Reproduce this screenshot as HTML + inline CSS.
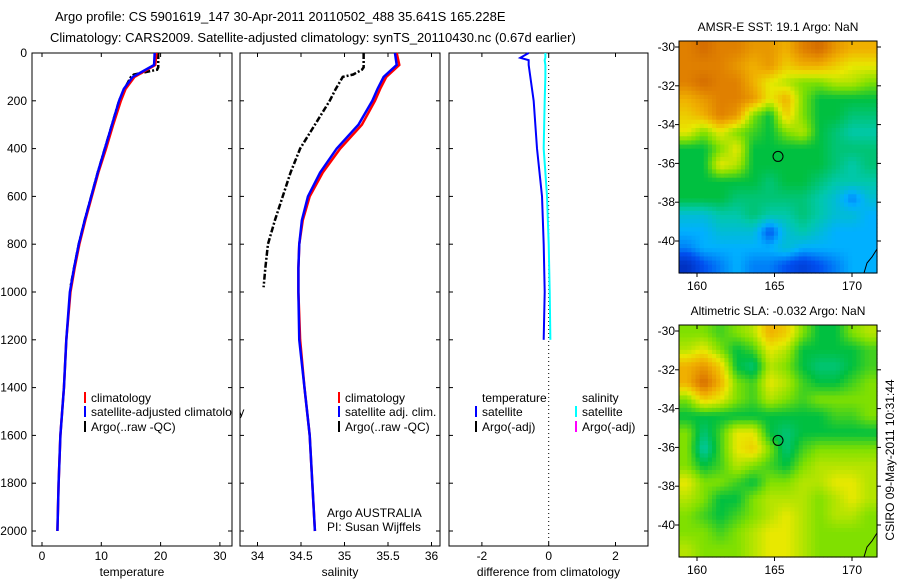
<!DOCTYPE html>
<html><head><meta charset="utf-8"><style>
html,body{margin:0;padding:0;background:#fff}
svg{display:block;font-family:"Liberation Sans",sans-serif}
text{font-size:12px;fill:#000}
</style></head><body>
<svg id="s" width="900" height="580" viewBox="0 0 900 580" xmlns="http://www.w3.org/2000/svg">
<text x="55" y="21" style="font-size:13px">Argo profile: CS 5901619_147 30-Apr-2011 20110502_488 35.641S 165.228E</text>
<text x="50" y="42" style="font-size:13px">Climatology: CARS2009. Satellite-adjusted climatology: synTS_20110430.nc (0.67d earlier)</text>
<g id="g"></g>
</svg>
<script>
// ---- data ----
const depthsClim=[0,50,100,150,200,300,400,500,600,700,800,900,1000,1200,1400,1600,1800,2000];
const tempSat=[19.0,18.9,15.3,13.8,13.0,11.8,10.6,9.4,8.3,7.2,6.2,5.4,4.7,4.1,3.7,3.1,2.8,2.6];
const tempClim=[19.3,19.1,15.6,14.1,13.3,12.0,10.8,9.5,8.4,7.3,6.3,5.5,4.8,4.1,3.7,3.1,2.8,2.6];
const salSat=[35.58,35.6,35.45,35.38,35.32,35.16,34.91,34.72,34.58,34.51,34.48,34.47,34.47,34.48,34.54,34.6,34.63,34.66];
const salClim=[35.6,35.63,35.48,35.41,35.35,35.2,34.95,34.75,34.6,34.52,34.48,34.47,34.47,34.49,34.54,34.6,34.63,34.66];
const depthsArgo=[0,60,70,90,100,150,200,300,400,500,600,700,800,900,980];
const tempArgo=[19.6,19.6,19.4,15.5,15.0,13.9,13.0,11.8,10.6,9.4,8.3,7.2,6.2,5.4,4.8];
const salArgo=[35.22,35.22,35.2,35.1,34.98,34.9,34.83,34.66,34.49,34.38,34.29,34.2,34.12,34.09,34.07];
const depthsDiff=[0,20,30,50,100,200,400,600,800,1000,1200];
const tempDiff=[-0.6,-0.85,-0.6,-0.6,-0.55,-0.45,-0.35,-0.2,-0.15,-0.12,-0.15];
const salDiff=[-0.1,-0.1,-0.12,-0.1,-0.1,-0.12,-0.15,-0.05,0,0.03,0.05];
const depthTicks=[0,200,400,600,800,1000,1200,1400,1600,1800,2000];
const tempTicks=[0,10,20,30];
const salTicks=[34,34.5,35,35.5,36];
const diffTicks=[-2,0,2];
const lonTicks=[160,165,170];
const latTicks=[-30,-32,-34,-36,-38,-40];
const sstGrid=[
[9,9.5,9,9,8.5,8.5,8,9,9.5,8.5,8,8],
[9,9,9,8.5,8,8.5,7.5,8,8,7.5,7,7],
[9,9.5,9,9,8,7,6.5,6,6,6.5,6.5,6],
[8,8.5,9,9,8.5,7,8,6,5,5,5,5],
[7.5,8,9,8.5,6,5,7.5,6,5,5,4.5,4.5],
[7,6,7,6,5.5,5,6,6.5,5,4.5,4,4],
[5,5,6,7,5,5,5,5,5,4.5,4.5,4.5],
[5,5,7,6.5,5,5,5,5,5,4.5,4,4.5],
[5,5,5,5,5,4.5,5,5,4.5,4,4,4],
[5,5,5,4.5,4.5,4.5,4.5,4.5,4,3.5,2.5,3.5],
[3.5,3.5,4,4,4.5,4,4,4.5,4,3.5,3.5,3],
[3,3,3.5,3.5,3.5,2,3.5,4,3.5,3,3,3],
[2.5,3,3,3,3,3,3.5,3,3,3,3,3],
[1,2,2.5,3,2.5,2.5,2,1.5,2,2.5,3,3]];
const slaGrid=[
[6,6,5.5,6,6.5,8,7.5,6,5,5,6,6.5],
[6.5,7,6,5,5.5,7,6.5,5,5,5,5,5.5],
[8,8.5,7.5,5,4.5,6.5,6,5,4.5,4.5,5,5.5],
[8,9.5,8,6,5.5,7,6.5,5.5,5,5,5.5,6],
[6,7.5,7,6,5.5,6.5,6,5.5,6,6,6,6],
[5,5,5,5,5,5,5,5,5,5.5,5.5,6],
[6,4.5,5.5,7,7,5,4.5,5,5,5,5,5],
[6,4,5.5,7,7.5,6,4.5,5.5,6,6,6,6],
[6,5,5.5,6.5,6,5.5,5,6,6.5,6.5,6.5,6.5],
[7,6,6,5.5,5,6,6,6.5,6.5,7,7,6.5],
[6.5,6,5,5,6,6.5,6.5,6.5,6,6.5,7,6.5],
[6,5.5,5,5.5,6,6.5,7,6.5,6,6.5,6.5,6],
[6,6,5.5,6,6.5,7,7,6.5,6,6,6,6],
[6.5,6,6,6,6.5,7,7,6.5,6,6,6,6]];
const argoLon=165.228, argoLat=-35.641;

const NS='http://www.w3.org/2000/svg', G=document.getElementById('g');
function mk(t,a,p){const e=document.createElementNS(NS,t);for(const k in a)e.setAttribute(k,a[k]);(p||G).appendChild(e);return e;}
const yD=d=>53+d*0.239;
function panel(x0,x1,xs,ticks,fmt,label,name){
  const b=mk('rect',{x:x0,y:53,width:x1-x0,height:493,fill:'none',stroke:'#000'});
  
  
  ticks.forEach(t=>{const x=xs(t);mk('line',{x1:x,x2:x,y1:546,y2:542,stroke:'#000'});mk('line',{x1:x,x2:x,y1:53,y2:57,stroke:'#000'});
    const tx=mk('text',{x:x,y:560,'text-anchor':'middle'});tx.textContent=fmt(t);
    
    });
  depthTicks.forEach(d=>{mk('line',{x1:x0,x2:x0+4,y1:yD(d),y2:yD(d),stroke:'#000'});mk('line',{x1:x1,x2:x1-4,y1:yD(d),y2:yD(d),stroke:'#000'});});
  const l=mk('text',{x:(x0+x1)/2,y:576,'text-anchor':'middle'});l.textContent=label;
  
  
}
function line(xs,vals,ds,col,w,dash,name){
  const p=mk('polyline',{points:vals.map((v,i)=>xs(v)+','+yD(ds[i])).join(' '),fill:'none',stroke:col,'stroke-width':w});
  if(dash)p.setAttribute('stroke-dasharray',dash);
  
  
}
function txt(x,y,s,name,a){const t=mk('text',Object.assign({x:x,y:y},a||{}));t.textContent=s;
  
  return t;}
function leg(x,y,col,s,name){mk('line',{x1:x-6,x2:x-6,y1:y-10,y2:y+1,stroke:col,'stroke-width':2});txt(x,y,s,name);}

// depth labels
depthTicks.forEach(d=>txt(27,yD(d)+4,String(d),'depth-tick-label',{'text-anchor':'end'}));
// panel 1
const xT=v=>42+v*5.93;
panel(32,232,xT,tempTicks,String,'temperature','temperature-panel');
line(xT,tempArgo,depthsArgo,'#000',2.5,'6,2,2,2','argo-temperature-line');
line(xT,tempClim,depthsClim,'#f00',2.5,null,'climatology-temperature-line');
line(xT,tempSat,depthsClim,'#00f',2.5,null,'satellite-temperature-line');
leg(91,402,'#f00','climatology','legend-climatology');
leg(91,416,'#00f','satellite-adjusted climatology','legend-satellite');
leg(91,431,'#000','Argo(..raw -QC)','legend-argo');
mk('rect',{x:232.5,y:380,width:7,height:60,fill:'#fff'});
// panel 2
const xS=v=>257.5+(v-34)*87;
panel(240,440,xS,salTicks,String,'salinity','salinity-panel');
line(xS,salArgo,depthsArgo,'#000',2.5,'6,2,2,2','argo-salinity-line');
line(xS,salClim,depthsClim,'#f00',2.5,null,'climatology-salinity-line');
line(xS,salSat,depthsClim,'#00f',2.5,null,'satellite-salinity-line');
leg(345,402,'#f00','climatology','legend2-climatology');
leg(345,416,'#00f','satellite adj. clim.','legend2-satellite');
leg(345,431,'#000','Argo(..raw -QC)','legend2-argo');
txt(327,517,'Argo AUSTRALIA','argo-australia-label');
txt(327,531,'PI: Susan Wijffels','pi-label');
// panel 3
const xDf=v=>548.7+v*33.4;
panel(449,648,xDf,diffTicks,String,'difference from climatology','difference-panel');
mk('line',{x1:548.7,x2:548.7,y1:53,y2:546,stroke:'#000','stroke-dasharray':'1,3'});
line(xDf,salDiff,depthsDiff,'#0ff',2,null,'salinity-difference-line');
line(xDf,tempDiff,depthsDiff,'#00f',2,null,'temperature-difference-line');
txt(482,402,'temperature','legend3-temperature-heading');
txt(582,402,'salinity','legend3-salinity-heading');
leg(482,416,'#00f','satellite','legend3-temp-satellite');
leg(482,431,'#000','Argo(-adj)','legend3-temp-argo');
leg(582,416,'#0ff','satellite','legend3-sal-satellite');
leg(582,431,'#f0f','Argo(-adj)','legend3-sal-argo');

// maps
const stops=[[0,[0,20,150]],[2,[0,80,240]],[3,[0,176,255]],[4,[0,200,170]],[5,[0,192,64]],[6,[128,224,0]],[7,[232,232,0]],[8,[240,176,0]],[9,[224,128,0]],[10,[200,90,0]]];
function cmap(v){for(let i=1;i<stops.length;i++){if(v<=stops[i][0]){const a=stops[i-1],b=stops[i],t=(v-a[0])/(b[0]-a[0]);return 'rgb('+a[1].map((c,k)=>Math.round(c+(b[1][k]-c)*t)).join(',')+')';}}return 'rgb(200,90,0)';}
function map(grid,y0,title,name){
  const x0=679,x1=877,y1=y0+232,R=grid.length,C=grid[0].length,st=4.125;
  const g=mk('g',{});
  
  
  const nx=Math.round((x1-x0)/st),ny=Math.round((y1-y0)/st);
  for(let j=0;j<ny;j++)for(let i=0;i<nx;i++){
    const fx=Math.min(C-1,Math.max(0,(i+0.5)/nx*C-0.5)),fy=Math.min(R-1,Math.max(0,(j+0.5)/ny*R-0.5));
    const ix=Math.min(C-2,Math.floor(fx)),iy=Math.min(R-2,Math.floor(fy)),tx=fx-ix,ty=fy-iy;
    const v=grid[iy][ix]*(1-tx)*(1-ty)+grid[iy][ix+1]*tx*(1-ty)+grid[iy+1][ix]*(1-tx)*ty+grid[iy+1][ix+1]*tx*ty;
    mk('rect',{x:(x0+i*(x1-x0)/nx).toFixed(2),y:(y0+j*(y1-y0)/ny).toFixed(2),width:((x1-x0)/nx+0.6).toFixed(2),height:((y1-y0)/ny+0.6).toFixed(2),fill:cmap(v)},g);
  }
  mk('rect',{x:x0,y:y0,width:x1-x0,height:y1-y0,fill:'none',stroke:'#000'});
  const lx=v=>697+(v-160)*15.5, ly=v=>y0+6+(-30-v)*19.4;
  lonTicks.forEach(t=>{mk('line',{x1:lx(t),x2:lx(t),y1:y0,y2:y0+4,stroke:'#000'});mk('line',{x1:lx(t),x2:lx(t),y1:y1,y2:y1+4,stroke:'#000'});txt(lx(t),y1+17,String(t),name+'-lon-label',{'text-anchor':'middle'});});
  latTicks.forEach(t=>{mk('line',{x1:x0-4,x2:x0,y1:ly(t),y2:ly(t),stroke:'#000'});mk('line',{x1:x1,x2:x1+4,y1:ly(t),y2:ly(t),stroke:'#000'});txt(x0-4,ly(t)+4,String(t),name+'-lat-label',{'text-anchor':'end'});});
  const c=mk('circle',{cx:lx(argoLon),cy:ly(argoLat),r:5,fill:'none',stroke:'#000'});
  
  
  mk('polyline',{points:`${x1-13},${y1} ${x1-10},${y1-10} ${x1-5},${y1-16} ${x1},${y1-24}`,fill:'none',stroke:'#000'});
  txt(778,y0-10,title,name+'-title',{'text-anchor':'middle'});
}
map(sstGrid,41,'AMSR-E SST: 19.1 Argo: NaN','sst-map');
map(slaGrid,325,'Altimetric SLA: -0.032 Argo: NaN','sla-map');
txt(0,0,'CSIRO 09-May-2011 10:31:44','csiro-timestamp',{transform:'translate(894,460) rotate(-90)','text-anchor':'middle'});
</script>
</body></html>
